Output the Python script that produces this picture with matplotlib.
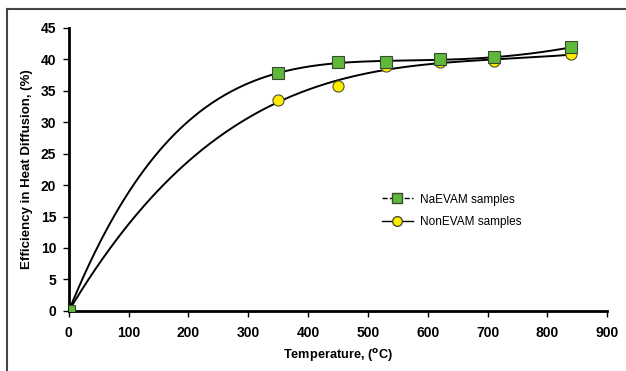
import numpy as np
import matplotlib
matplotlib.use("Agg")
import matplotlib.pyplot as plt
from matplotlib.lines import Line2D

plt.rcParams['font.family'] = ['Liberation Sans', 'DejaVu Sans']

# data
temperature = [0, 350, 450, 530, 620, 710, 840]
naevam = [0, 37.8, 39.5, 39.6, 40.0, 40.3, 41.9]
nonevam = [0, 33.5, 35.8, 39.0, 39.5, 39.7, 40.8]

fig = plt.figure(figsize=(6.26, 3.71), dpi=100)
ax = fig.add_axes([0.110, 0.162, 0.860, 0.763])

# trend lines (polynomial fit, like the spreadsheet ones)
xs = np.linspace(0, max(temperature), 300)
for ys in (naevam, nonevam):
    coef = np.polyfit(temperature, ys, 4)
    ax.plot(xs, np.polyval(coef, xs), color='black', lw=1.4, zorder=2)

ax.plot(temperature, naevam, ls='none', marker='s', ms=8.5, mfc='#5fb83a',
        mec='#3a4a30', mew=0.8, zorder=4)
ax.plot(temperature, nonevam, ls='none', marker='o', ms=8, mfc='#ffec00',
        mec='#505030', mew=0.8, zorder=3)

handles = [
    Line2D([], [], color='black', ls='--', lw=1, marker='s', ms=7,
           mfc='#5fb83a', mec='#3a4a30'),
    Line2D([], [], color='black', ls='-', lw=1, marker='o', ms=7,
           mfc='#ffec00', mec='#505030'),
]
ax.legend(handles, ['NaEVAM samples', 'NonEVAM samples'], frameon=False,
          loc='upper left', bbox_to_anchor=(0.562, 0.452), fontsize=8.5,
          handlelength=2.6, handletextpad=0.6, labelspacing=0.9)

ax.set_xlim(0, 900)
ax.set_ylim(0, 45)
ax.set_xticks(range(0, 901, 100))
ax.set_yticks(range(0, 46, 5))
for s in ('top', 'right'):
    ax.spines[s].set_visible(False)
for s in ('left', 'bottom'):
    ax.spines[s].set_linewidth(2)
ax.tick_params(direction='out', length=4, width=1, labelsize=10)
ax.tick_params(axis='x', pad=7)
ax.tick_params(axis='y', pad=5)
for lbl in ax.get_xticklabels() + ax.get_yticklabels():
    lbl.set_fontweight('bold')
ax.set_xlabel('Temperature, ($^{\\mathbf{o}}$C)', fontsize=9.2, fontweight='bold',
              labelpad=5)
ax.set_ylabel('Efficiency in Heat Diffusion, (%)', fontsize=9.5, fontweight='bold',
              labelpad=6)

# frame round the figure (only top and left edges visible)
fig.add_artist(Line2D([7 / 626, 7 / 626], [0, 1 - 9 / 371], transform=fig.transFigure,
                      color='#444444', lw=1.5))
fig.add_artist(Line2D([7 / 626, 1], [1 - 9 / 371, 1 - 9 / 371], transform=fig.transFigure,
                      color='#444444', lw=1.5))

fig.savefig('out.png', dpi=100)
